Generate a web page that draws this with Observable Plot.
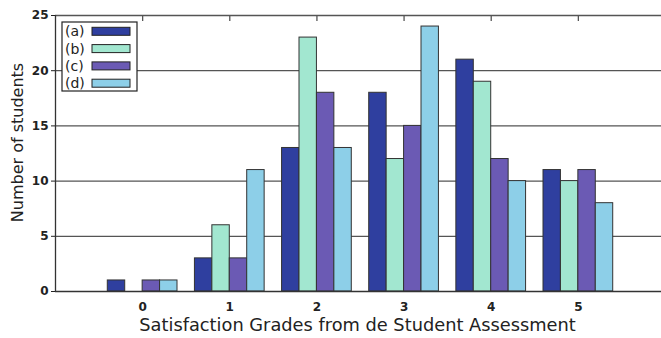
<!DOCTYPE html>
<html><head><meta charset="utf-8">
<script src="https://cdn.jsdelivr.net/npm/d3@7"></script>
<script src="https://cdn.jsdelivr.net/npm/@observablehq/plot@0.6"></script>
<style>body{margin:0;background:#fff} #chart{width:661px;height:338px;overflow:hidden}</style>
</head><body><div id="chart"></div>
<script>
const grades = [0, 1, 2, 3, 4, 5];
const seriesNames = ["(a)", "(b)", "(c)", "(d)"];
const valuesA = [1, 3, 13, 18, 21, 11];
const valuesB = [0, 6, 23, 12, 19, 10];
const valuesC = [1, 3, 18, 15, 12, 11];
const valuesD = [1, 11, 13, 24, 10, 8];
const colors = ["#2f3f9f", "#a2e7d0", "#6b5ab4", "#8dcfe8"];
const yTicks = [0, 5, 10, 15, 20, 25];
const gridValues = [5, 10, 15, 20, 25];
const xLabel = "Satisfaction Grades from de Student Assessment";
const yLabel = "Number of students";

const table = [];
[valuesA, valuesB, valuesC, valuesD].forEach((vals, i) =>
  vals.forEach((v, j) => table.push({grade: grades[j], series: seriesNames[i], idx: i, value: v})));
const bars = table.filter(d => d.value > 0);

const plot = Plot.plot({
  width: 661, height: 338,
  marginLeft: 55, marginRight: 0, marginTop: 15, marginBottom: 47,
  style: {fontFamily: "DejaVu Sans", background: "white", color: "#222"},
  x: {domain: [-1, 6], range: [55, 665]},
  y: {domain: [0, 25], range: [291, 15]},
  color: {domain: seriesNames, range: colors},
  marks: [
    Plot.ruleY(gridValues, {stroke: "#555", strokeWidth: 1.3}),
    Plot.ruleX(grades, {stroke: "#555", strokeWidth: 1.3, insetBottom: 270}),
    Plot.rect(bars, {
      x1: d => d.grade - 0.4 + d.idx * 0.2,
      x2: d => d.grade - 0.2 + d.idx * 0.2,
      y1: 0, y2: "value", fill: "series", stroke: "#333", strokeWidth: 1
    }),
    Plot.ruleY([0], {stroke: "#333", strokeWidth: 1.3}),
    Plot.ruleX([-1], {stroke: "#333", strokeWidth: 1.3}),
    Plot.axisY({ticks: yTicks, tickFormat: d3.format("d"), tickSize: 4, tickPadding: 3, fontWeight: "bold", fontSize: 12, label: null}),
    Plot.axisX({ticks: grades, tickFormat: d3.format("d"), tickSize: 0, tickPadding: 11, fontWeight: "bold", fontSize: 12, label: null}),
    Plot.text([xLabel], {frameAnchor: "bottom", dx: -1, dy: 39, fontSize: 17.8}),
    Plot.text([yLabel], {frameAnchor: "left", textAnchor: "middle", rotate: -90, dx: -38, dy: -11, fontSize: 16})
  ]
});

const svg = d3.select(plot);
const lg = svg.append("g").attr("font-family", "DejaVu Sans").attr("fill", "#222");
lg.append("rect").attr("x", 62).attr("y", 22).attr("width", 75).attr("height", 69)
  .attr("fill", "white").attr("stroke", "#222").attr("stroke-width", 1.2);
seriesNames.forEach((name, i) => {
  const cy = 31.3 + i * 17.3;
  lg.append("text").attr("x", 65).attr("y", cy).attr("dy", "0.35em")
    .attr("text-anchor", "start").attr("font-size", 14).text(name);
  lg.append("rect").attr("x", 92).attr("y", cy - 4).attr("width", 38).attr("height", 8)
    .attr("fill", colors[i]).attr("stroke", "#222").attr("stroke-width", 1);
});
document.getElementById("chart").appendChild(plot);
</script>
</body></html>
